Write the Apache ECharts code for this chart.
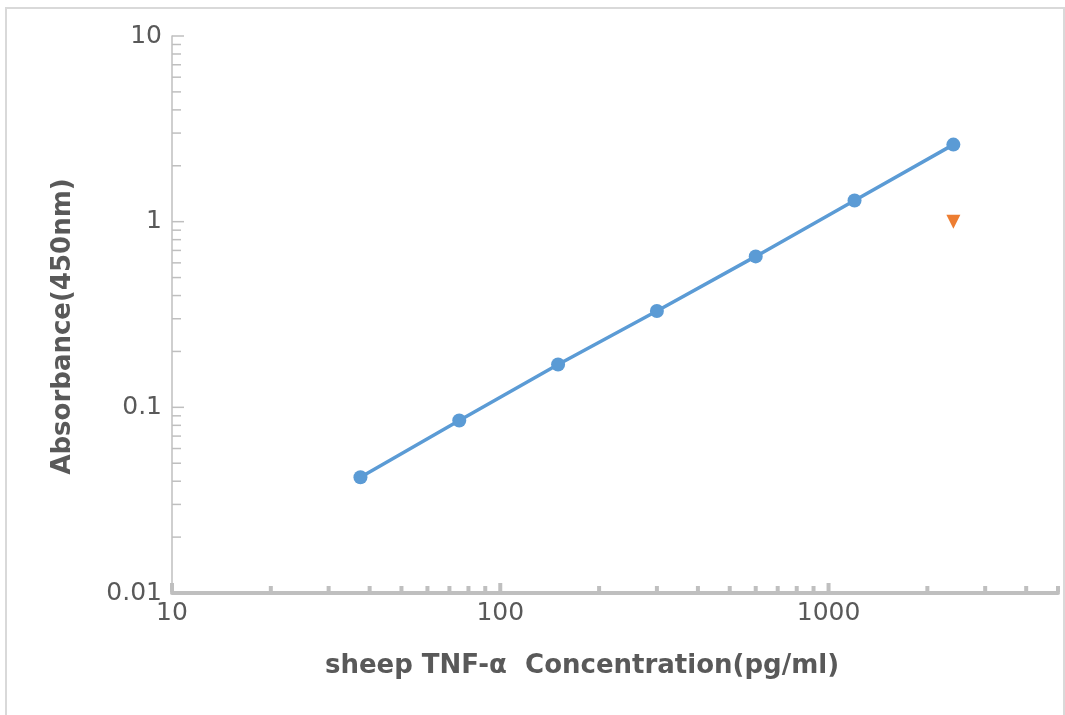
<!DOCTYPE html>
<html>
<head>
<meta charset="utf-8">
<script src="https://cdn.jsdelivr.net/npm/echarts@6/dist/echarts.min.js"></script>
<style>
html,body{margin:0;padding:0;background:#fff;}
#chart{width:1065px;height:715px;}
</style>
</head>
<body>
<div id="chart"></div>
<script>
// ---- data ----
const concentrations = [37.5, 75, 150, 300, 600, 1200, 2400];
const absorbance = [0.042, 0.085, 0.17, 0.33, 0.65, 1.3, 2.6];
const outlierX = [2400];
const outlierY = [1.0];
const xTickLabels = ['10', '100', '1000'];
const yTickLabels = ['0.01', '0.1', '1', '10'];
const xMajorTicks = [10, 100, 1000];
const xMinorTicks = [20, 30, 40, 50, 60, 70, 80, 90, 200, 300, 400, 500, 600, 700, 800, 900, 2000, 3000, 4000, 5000];
const yMajorTicks = [0.01, 0.1, 1, 10];
const yMinorTicks = [0.02, 0.03, 0.04, 0.05, 0.06, 0.07, 0.08, 0.09, 0.2, 0.3, 0.4, 0.5, 0.6, 0.7, 0.8, 0.9, 2, 3, 4, 5, 6, 7, 8, 9];
const X_MIN = 10, X_MAX = 5000, Y_MIN = 0.01, Y_MAX = 10;

const FONT = 'DejaVu Sans';
const labelColor = '#595959';
const axisColor = '#bfbfbf';

function matchLabel(v, labels) {
  for (const s of labels) {
    if (Math.abs(Math.log10(v) - Math.log10(parseFloat(s))) < 1e-6) return s;
  }
  return '';
}

function xTickRender(len) {
  return function (params, api) {
    const p = api.coord([api.value(0), Y_MIN]);
    return {
      type: 'line',
      shape: { x1: p[0], y1: p[1] - 1, x2: p[0], y2: p[1] - 2 - len },
      style: { stroke: axisColor, lineWidth: 4 }
    };
  };
}
function yTickRender(len) {
  return function (params, api) {
    const p = api.coord([X_MIN, api.value(1)]);
    return {
      type: 'line',
      shape: { x1: p[0], y1: p[1], x2: p[0] + len, y2: p[1] },
      style: { stroke: axisColor, lineWidth: 1.5 }
    };
  };
}

const chart = echarts.init(document.getElementById('chart'), null, { renderer: 'canvas' });
chart.setOption({
  animation: false,
  backgroundColor: '#fff',
  graphic: [{
    type: 'rect',
    shape: { x: 6, y: 8, width: 1058, height: 720 },
    style: { fill: 'none', stroke: '#d9d9d9', lineWidth: 2 },
    silent: true,
    z: -10
  }],
  grid: { left: 172, right: 7, top: 36, bottom: 122, containLabel: false },
  xAxis: {
    type: 'log',
    logBase: 10,
    min: X_MIN,
    max: X_MAX,
    interval: 1,
    name: 'sheep TNF-α  Concentration(pg/ml)',
    nameLocation: 'middle',
    nameGap: 60,
    nameTextStyle: { fontFamily: FONT, fontSize: 26, fontWeight: 'bold', color: labelColor, padding: [0, 66, 0, 0] },
    axisLine: { show: true, lineStyle: { color: axisColor, width: 4 } },
    axisTick: { show: false },
    minorTick: { show: false },
    splitLine: { show: false },
    axisLabel: {
      fontFamily: FONT, fontSize: 25, color: labelColor, margin: 8,
      formatter: v => matchLabel(v, xTickLabels)
    }
  },
  yAxis: {
    type: 'log',
    logBase: 10,
    min: Y_MIN,
    max: Y_MAX,
    interval: 1,
    name: 'Absorbance(450nm)',
    nameLocation: 'middle',
    nameGap: 96,
    nameRotate: 90,
    nameTextStyle: { fontFamily: FONT, fontSize: 26, fontWeight: 'bold', color: labelColor, padding: [0, 24, 0, 0] },
    axisLine: { show: true, lineStyle: { color: axisColor, width: 1.5 } },
    axisTick: { show: false },
    minorTick: { show: false },
    splitLine: { show: false },
    axisLabel: {
      fontFamily: FONT, fontSize: 25, color: labelColor, margin: 10,
      formatter: v => matchLabel(v, yTickLabels)
    }
  },
  series: [
    {
      type: 'custom', silent: true, clip: false, z: 1,
      renderItem: xTickRender(8),
      data: xMajorTicks.map(v => [v, Y_MIN])
    },
    {
      type: 'custom', silent: true, clip: false, z: 1,
      renderItem: xTickRender(5),
      data: xMinorTicks.map(v => [v, Y_MIN])
    },
    {
      type: 'custom', silent: true, clip: false, z: 1,
      renderItem: yTickRender(12),
      data: yMajorTicks.map(v => [X_MIN, v])
    },
    {
      type: 'custom', silent: true, clip: false, z: 1,
      renderItem: yTickRender(9),
      data: yMinorTicks.map(v => [X_MIN, v])
    },
    {
      type: 'line',
      z: 3,
      data: concentrations.map((c, i) => [c, absorbance[i]]),
      symbol: 'circle',
      symbolSize: 14,
      lineStyle: { color: '#5b9bd5', width: 3.5 },
      itemStyle: { color: '#5b9bd5', opacity: 1 }
    },
    {
      type: 'scatter',
      z: 3,
      data: outlierX.map((c, i) => [c, outlierY[i]]),
      symbol: 'triangle',
      symbolRotate: 180,
      symbolSize: 14,
      itemStyle: { color: '#ed7d31', opacity: 1 }
    }
  ]
});
</script>
</body>
</html>
